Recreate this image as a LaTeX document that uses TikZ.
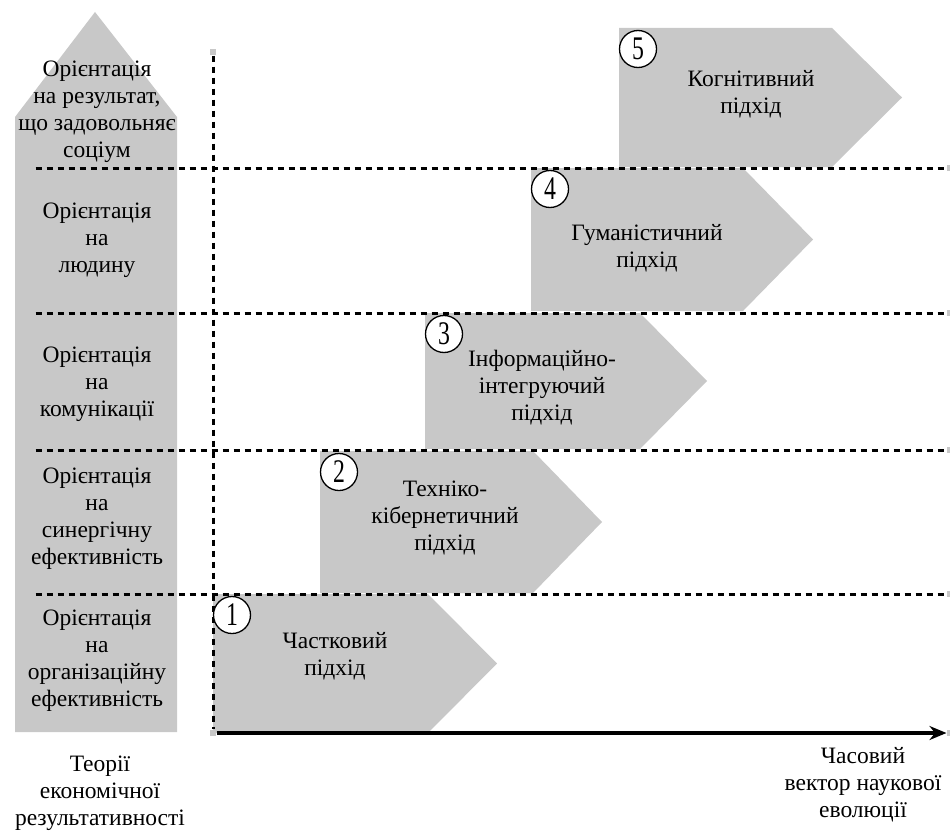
\documentclass[tikz,border=0pt]{standalone}
\usepackage{fontspec}
\setmainfont{Liberation Serif}
\newfontfamily\narrowdigits[FakeStretch=0.72]{Liberation Serif}
\usetikzlibrary{arrows.meta}
\definecolor{panel}{RGB}{200,200,200}
\begin{document}
\begin{tikzpicture}[x=1pt,y=-1pt,
  lbl/.style={align=center, font=\fontsize{23.5}{27}\selectfont, inner sep=0pt, text=black},
  numbox/.style={circle, draw=black, fill=white, line width=1.3pt, minimum size=37pt, inner sep=0pt, font=\narrowdigits\fontsize{33}{33}\selectfont},
  gridline/.style={line width=3pt, dash pattern=on 6.5pt off 4.5pt, black},
  axisline/.style={line width=3.2pt, black, -{Stealth[length=17pt,width=14pt]}},
  shape/.style={fill=panel, draw=none}]
\useasboundingbox (0,0) rectangle (950,832);

% tall arrow of the theories of economic effectiveness
\fill[panel] (15,117) -- (95,12) -- (177,117) -- (177,732) -- (15,732) -- cycle;

% approach pentagons, one per row
\fill[panel] (213,594) -- (428,594) -- (497,663.5) -- (428,733) -- (213,733) -- cycle;
\fill[panel] (320,451) -- (533,451) -- (602,522) -- (533,593) -- (320,593) -- cycle;
\fill[panel] (425,313) -- (640,313) -- (707,381) -- (640,449) -- (425,449) -- cycle;
\fill[panel] (531,168) -- (743,168) -- (813,239.5) -- (743,311) -- (531,311) -- cycle;
\fill[panel] (619,28) -- (832,28) -- (902,97.5) -- (832,167) -- (619,167) -- cycle;

% row separators
\coordinate (r4a) at (32,168);  \coordinate (r4b) at (950,168);
\coordinate (r3a) at (32,313);  \coordinate (r3b) at (950,313);
\coordinate (r2a) at (32,450);  \coordinate (r2b) at (950,450);
\coordinate (r1a) at (32,594);  \coordinate (r1b) at (950,594);
\draw[gridline] (r4a) -- (r4b);
\draw[gridline] (r3a) -- (r3b);
\draw[gridline] (r2a) -- (r2b);
\draw[gridline] (r1a) -- (r1b);

% vertical dotted axis and time axis
\coordinate (vtop) at (213,52);
\coordinate (origin) at (213,733);
\coordinate (tend) at (950,733);
\draw[gridline] (vtop) -- (origin);
\draw[axisline] (origin) -- (tend);

% numbered badges
\node[numbox] (n1) at (232,615) {1};
\node[numbox] (n2) at (339,472) {2};
\node[numbox] (n3) at (444,334) {3};
\node[numbox] (n4) at (550,189) {4};
\node[numbox] (n5) at (638,49) {5};

% approach labels
\node[lbl] (a1) at (335,656) {Частковий\\підхід};
\node[lbl] (a2) at (445,518) {Техніко-\\кібернетичний\\підхід};
\node[lbl] (a3) at (542,388) {Інформаційно-\\інтегруючий\\підхід};
\node[lbl] (a4) at (647,248) {Гуманістичний\\підхід};
\node[lbl] (a5) at (751,94) {Когнітивний\\підхід};

% orientation labels in the tall arrow
\node[lbl] (o5) at (97,112) {Орієнтація\\на результат,\\що задовольняє\\соціум};
\node[lbl] (o4) at (97,240) {Орієнтація\\на\\людину};
\node[lbl] (o3) at (97,384) {Орієнтація\\на\\комунікації};
\node[lbl] (o2) at (97,519) {Орієнтація\\на\\синергічну\\ефективність};
\node[lbl] (o1) at (97,661) {Орієнтація\\на\\організаційну\\ефективність};

% axis captions
\node[lbl] (ycap) at (100,793) {Теорії\\економічної\\результативності};
\node[lbl] (xcap) at (863,785) {Часовий\\вектор наукової\\еволюції};
\end{tikzpicture}
\end{document}
